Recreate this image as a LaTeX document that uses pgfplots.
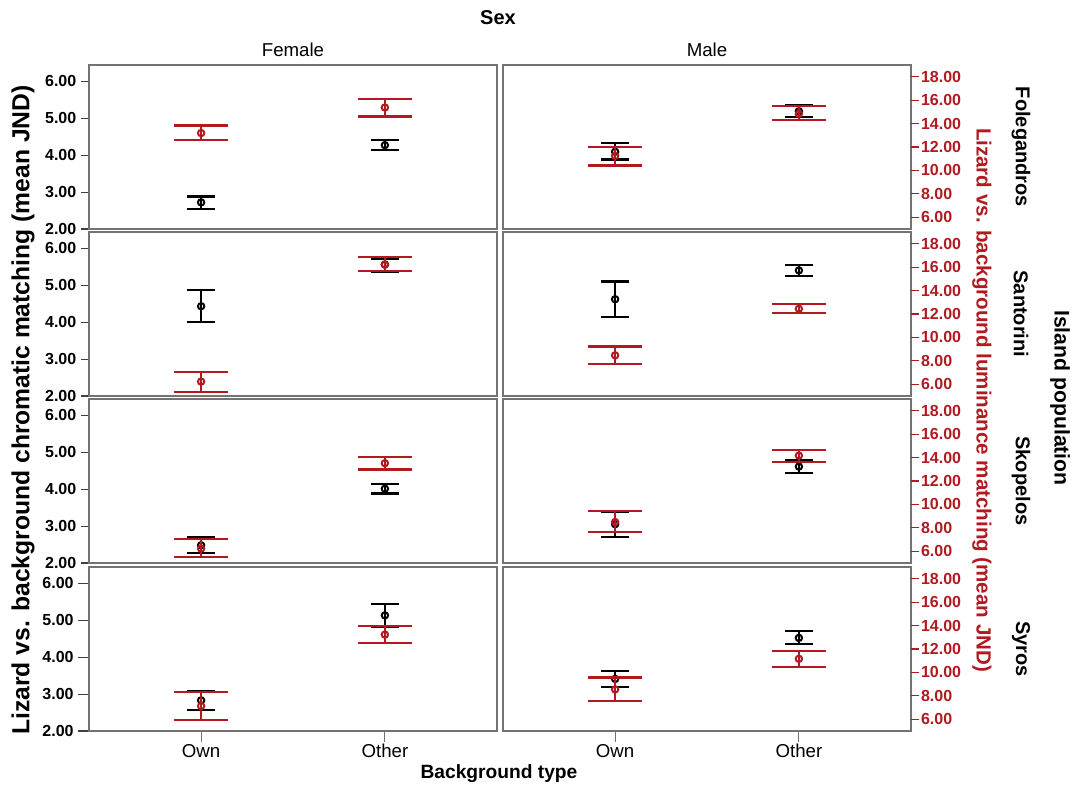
\documentclass[border=0pt]{standalone}
\usepackage{fontspec}
\setmainfont{Liberation Sans}
\usepackage{pgfplots}
\pgfplotsset{compat=1.18}
\usepackage{pgfplotstable}
\definecolor{lumred}{RGB}{176,26,32}
\definecolor{frame}{RGB}{115,115,115}

% x: 0 = Own, 1 = Other; c* = chromatic (left axis), l* = luminance (right axis)
\pgfplotstableread{
x cm clo chi lm llo lhi
0 2.72 2.55 2.88 13.19 12.57 13.84
1 4.27 4.14 4.41 15.37 14.60 16.10
}\FFol
\pgfplotstableread{
x cm clo chi lm llo lhi
0 4.43 4.00 4.86 6.23 5.35 7.08
1 5.56 5.36 5.70 16.21 15.70 16.89
}\FSan
\pgfplotstableread{
x cm clo chi lm llo lhi
0 2.48 2.26 2.70 6.23 5.52 7.08
1 4.01 3.88 4.14 13.52 12.98 14.03
}\FSko
\pgfplotstableread{
x cm clo chi lm llo lhi
0 2.83 2.58 3.09 7.13 5.94 8.30
1 5.13 4.83 5.44 13.23 12.52 13.94
}\FSyr
\pgfplotstableread{
x cm clo chi lm llo lhi
0 4.09 3.88 4.32 11.24 10.42 11.97
1 5.19 5.03 5.35 14.83 14.29 15.48
}\MFol
\pgfplotstableread{
x cm clo chi lm llo lhi
0 4.62 4.14 5.10 8.47 7.70 9.23
1 5.40 5.25 5.54 12.44 12.07 12.84
}\MSan
\pgfplotstableread{
x cm clo chi lm llo lhi
0 3.05 2.71 3.39 8.50 7.67 9.46
1 4.61 4.44 4.78 14.17 13.60 14.68
}\MSko
\pgfplotstableread{
x cm clo chi lm llo lhi
0 3.41 3.19 3.62 8.55 7.53 9.57
1 4.52 4.35 4.71 11.16 10.45 11.84
}\MSyr

\pgfplotsset{
  panel/.style={
    scale only axis, width=306pt, height=123pt,
    xmin=-0.61, xmax=1.61,
    tick align=outside, major tick length=6pt,
    xtick=\empty,
    /pgf/number format/fixed,
    /pgf/number format/fixed zerofill,
    /pgf/number format/precision=2,
    /pgf/number format/assume math mode=true,
    clip=false,
  },
  chrom/.style={panel, ymin=2, ymax=6.44, ytick={2,3,4,5,6},
    ytick pos=left,
    axis line style={frame, line width=1.1pt},
    tick style={black!75, line width=0.8pt},
    yticklabel style={font=\bfseries\fontsize{12}{12}\selectfont},
    xticklabel style={font=\fontsize{14}{14}\selectfont, text height=10pt, text depth=0pt, inner sep=2pt},
  },
  lum/.style={panel, ymin=5, ymax=19, ytick={6,8,...,18},
    ytick pos=right, yticklabel pos=right,
    axis line style={draw=none},
    tick style={lumred, line width=0.8pt},
    yticklabel style={lumred, font=\bfseries\fontsize{12}{12}\selectfont, xshift=-2pt},
  },
  bottomrow/.style={xtick={0,1}, xticklabels={Own,Other}, xtick pos=bottom,
    x tick style={frame, line width=0.8pt}, major tick length=8pt},
  blackbar/.style={black, only marks, line width=1.5pt, mark=o, mark size=2.4pt,
    error bars/.cd, y dir=both, y explicit, error mark=|,
    error bar style={black, line width=1.6pt},
    error mark options={black, line width=1.6pt, mark size=10.3pt}},
  redbar/.style={lumred, only marks, line width=1.5pt, mark=o, mark size=2.4pt,
    error bars/.cd, y dir=both, y explicit, error mark=|,
    error bar style={lumred, line width=1.6pt},
    error mark options={lumred, line width=1.6pt, mark size=20.5pt}},
}

% #1,#2 lower left corner (px), #3 table, #4 chromatic axis options, #5 luminance axis options
\newcommand{\panel}[5]{%
  \begin{axis}[chrom, at={({#1*0.75pt},{#2*0.75pt})}, anchor=south west, #4]
    \addplot[blackbar] table[x=x, y=cm,
      y error plus expr=\thisrow{chi}-\thisrow{cm},
      y error minus expr=\thisrow{cm}-\thisrow{clo}] {#3};
  \end{axis}
  \begin{axis}[lum, at={({#1*0.75pt},{#2*0.75pt})}, anchor=south west, #5]
    \addplot[redbar] table[x=x, y=lm,
      y error plus expr=\thisrow{lhi}-\thisrow{lm},
      y error minus expr=\thisrow{lm}-\thisrow{llo}] {#3};
  \end{axis}}

\begin{document}
\begin{tikzpicture}
\path[use as bounding box] (0,0) rectangle (808.5pt,591pt);

\panel{89}{559}{\FFol}{}{ytick=\empty}
\panel{89}{392}{\FSan}{}{ytick=\empty}
\panel{89}{225}{\FSko}{}{ytick=\empty}
\panel{89}{57}{\FSyr}{bottomrow}{ytick=\empty}

\panel{503}{559}{\MFol}{ytick=\empty}{}
\panel{503}{392}{\MSan}{ytick=\empty}{}
\panel{503}{225}{\MSko}{ytick=\empty}{}
\panel{503}{57}{\MSyr}{ytick=\empty, bottomrow}{}

\begin{scope}[x=0.75pt, y=0.75pt]
\node[font=\bfseries\fontsize{15}{15}\selectfont] at (498,770) {Sex};
\node[font=\fontsize{14}{14}\selectfont] at (293,738) {Female};
\node[font=\fontsize{14}{14}\selectfont] at (707,738) {Male};

\node[font=\bfseries\fontsize{18.5}{18.5}\selectfont, rotate=90] at (23,378)
  {Lizard vs. background chromatic matching (mean JND)};
\node[font=\bfseries\fontsize{15.4}{15.4}\selectfont, rotate=-90, text=lumred] at (982,388)
  {Lizard vs. background luminance matching (mean JND)};

\node[font=\bfseries\fontsize{15}{15}\selectfont, rotate=-90] at (1021,641) {Folegandros};
\node[font=\bfseries\fontsize{15}{15}\selectfont, rotate=-90] at (1021,474) {Santorini};
\node[font=\bfseries\fontsize{15}{15}\selectfont, rotate=-90] at (1021,307) {Skopelos};
\node[font=\bfseries\fontsize{15}{15}\selectfont, rotate=-90] at (1021,139) {Syros};
\node[font=\bfseries\fontsize{15.9}{15.9}\selectfont, rotate=-90] at (1060,390) {Island population};

\node[font=\bfseries\fontsize{14.4}{14.4}\selectfont] at (499,14) {Background type};
\end{scope}
\end{tikzpicture}
\end{document}
